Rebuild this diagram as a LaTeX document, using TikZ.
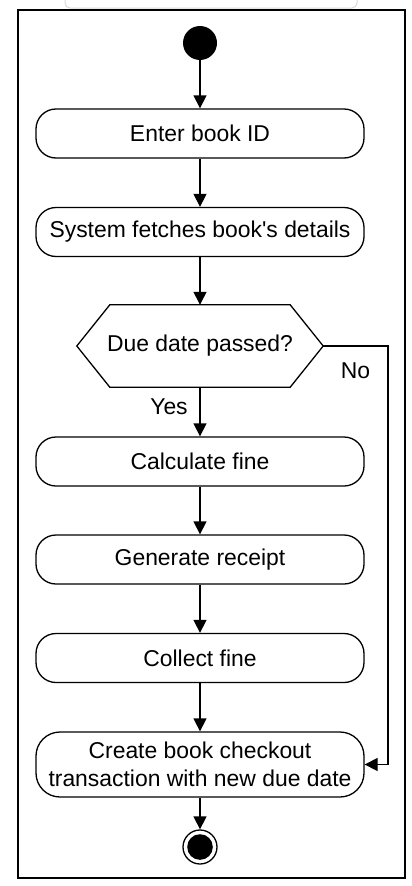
\documentclass[tikz,border=0pt]{standalone}
\usepackage{fontspec}
\setmainfont{Liberation Sans}[Ligatures=TeXOff]
\usepackage{tikz}
\usetikzlibrary{arrows.meta,positioning,calc}
\definecolor{ghost}{RGB}{215,215,215}

\begin{document}
\begin{tikzpicture}[
  x=1pt,y=-1pt,
  act/.style={draw,fill=white,rounded corners=20pt,minimum width=328pt,
              minimum height=49pt,align=center,inner sep=0pt,line width=1.3pt,
              font=\fontsize{22.9}{27.5}\selectfont},
  dec/.style={minimum width=246pt,minimum height=82pt,inner sep=0pt,
              font=\fontsize{22.9}{27.5}\selectfont},
  arr/.style={-{Triangle[width=13pt,length=13pt]},line width=1.3pt},
  lbl/.style={font=\fontsize{22.9}{27.5}\selectfont,inner sep=0pt}
]
\useasboundingbox (0,0) rectangle (412,886);

%% ── Background: faint cut-off box and frame ──────────────────────────────────
\draw[ghost,line width=1pt,rounded corners=5pt] (65,-20) rectangle (357,8);
\draw[line width=1.6pt] (18,10) rectangle (405,878);

%% ── Start ────────────────────────────────────────────────────────────────────
\node[circle,fill=black,minimum size=34pt,inner sep=0pt] (start) at (200,43) {};

%% ── Actions before the check ─────────────────────────────────────────────────
\node[act] (enter) at (200,133.5) {Enter book ID};
\node[act] (fetch) at (200,232)   {System fetches book's details};

%% ── Decision ─────────────────────────────────────────────────────────────────
\node[dec] (due) at (200,346) {Due date passed?};
\draw[line width=1.3pt] (due.west) -- ([xshift=33pt]due.north west)
  -- ([xshift=-33pt]due.north east) -- (due.east)
  -- ([xshift=-33pt]due.south east) -- ([xshift=33pt]due.south west) -- cycle;

%% ── Fine branch ──────────────────────────────────────────────────────────────
\node[act] (calc)    at (200,461.5) {Calculate fine};
\node[act] (receipt) at (200,559.5) {Generate receipt};
\node[act] (collect) at (200,658)   {Collect fine};
\node[act,minimum height=65pt,rounded corners=24pt] (checkout) at (200,764.5)
  {Create book checkout\\transaction with new due date};

%% ── End ──────────────────────────────────────────────────────────────────────
\node[circle,draw,fill=white,line width=1.3pt,minimum size=34pt,inner sep=0pt]
  (end) at (200,847) {};
\fill (end.center) circle (12.8pt);

%% ── Flow ─────────────────────────────────────────────────────────────────────
\draw[arr] (start) -- (enter);
\draw[arr] (enter) -- (fetch);
\draw[arr] (fetch) -- (due.north);
\draw[arr] (due.south) -- (calc);
\draw[arr] (calc) -- (receipt);
\draw[arr] (receipt) -- (collect);
\draw[arr] (collect) -- (checkout);
\draw[arr] (checkout) -- (end);

%% ── No: skip the fine ────────────────────────────────────────────────────────
\coordinate (bend) at (388,346);
\draw[arr] (due.east) -- (bend) |- (checkout.east);

%% ── Branch labels ────────────────────────────────────────────────────────────
\node[lbl] (yes) at (169,407) {Yes};
\node[lbl] (no)  at (355.5,371) {No};
\end{tikzpicture}
\end{document}
